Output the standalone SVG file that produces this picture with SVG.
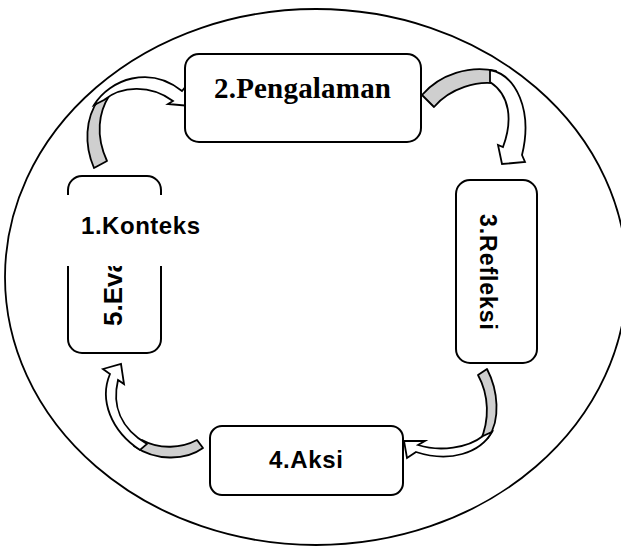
<svg xmlns="http://www.w3.org/2000/svg" width="621" height="548" viewBox="0 0 621 548">
<style>
.box{fill:#fff;stroke:#000;stroke-width:2}
.back{fill:#cfcfcf;stroke:#000;stroke-width:1.8;stroke-linejoin:round}
.front{fill:#fff;stroke:#000;stroke-width:1.8;stroke-linejoin:miter}
.sans{font-family:"Liberation Sans",Arial,sans-serif;font-weight:bold;fill:#000}
.serif{font-family:"Liberation Serif","Times New Roman",serif;font-weight:bold;fill:#000}
</style>
<rect width="621" height="548" fill="#fff"/>
<ellipse id="circle" cx="316" cy="277" rx="311" ry="268" fill="none" stroke="#000" stroke-width="1.8"/>
<g id="connectors">
  <path class="back" d="M94,168 C84,145 85,118 99,99 L109,96 C99,112 95,135 107,161 Z"/>
  <path class="front" d="M94,105 C110,79 150,65 182,91 L187,85 L190,106 L168,104 L173,101 C150,84 121,86 104,100 Z"/>
  <path class="back" d="M422,95 C440,74 470,65 496,71 L498,84 C478,80 450,88 434,107 Z"/>
  <path class="front" d="M490,70 C516,75 533,110 522,155 L525,162 L502,164 L498,145 L503,147 C513,120 510,95 490,82 Z"/>
  <path class="back" d="M487,369 C498,390 501,420 488,438 L480,442 C490,420 489,395 478,375 Z"/>
  <path class="front" d="M492,432 C480,453 450,463 416,452 L407,458 L404,441 L425,441 L418,445 C440,452 468,448 483,436 Z"/>
  <path class="back" d="M203,448 C185,461 155,461 134,446 L142,440 C160,450 182,448 197,440 Z"/>
  <path class="front" d="M140,450 C111,431 99,400 110,374 L103,369 L121,364 L124,384 L118,380 C112,405 120,428 147,444 Z"/>
</g>
<g id="node-5">
  <rect class="box" x="68" y="176" width="93" height="177" rx="14"/>
  <text class="sans" font-size="26" transform="translate(122,326) rotate(-90)">5.Eva</text>
</g>
<g id="node-1">
  <rect x="62" y="195" width="145" height="71" fill="#fff"/>
  <text class="sans" x="81" y="234" font-size="24" textLength="119">1.Konteks</text>
</g>
<g id="node-2">
  <rect class="box" x="185" y="54" width="236" height="88" rx="14"/>
  <text class="serif" x="214" y="98" font-size="29" textLength="177">2.Pengalaman</text>
</g>
<g id="node-3">
  <rect class="box" x="456" y="180" width="81" height="183" rx="14"/>
  <text class="sans" font-size="23" textLength="116" transform="translate(480,214) rotate(90)">3.Refleksi</text>
</g>
<g id="node-4">
  <rect class="box" x="210" y="426" width="193" height="69" rx="12"/>
  <text class="sans" x="269" y="468" font-size="24" textLength="74">4.Aksi</text>
</g>
</svg>
